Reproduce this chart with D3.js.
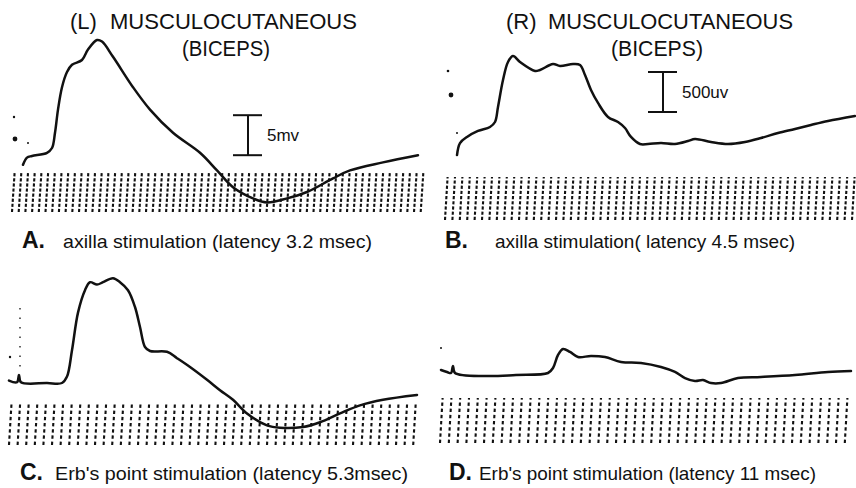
<!DOCTYPE html>
<html>
  <head>
    <meta charset="utf-8">
    <title>Musculocutaneous (biceps) responses</title>
    <script src="https://d3js.org/d3.v7.min.js"></script>
    <style>
      body { margin: 0; background: #fff; }
      svg { display: block; }
      text { font-family: "Liberation Sans", Arial, sans-serif; fill: #111; }
      .trace { fill: none; stroke: #111; stroke-width: 2.5; stroke-linejoin: round; stroke-linecap: round; }
      .bar { stroke: #111; stroke-width: 2; }
      .hatch { stroke: #111; stroke-width: 2.1; }
      .speck { fill: #111; }
    </style>
  </head>
  <body>
    <svg id="chart" width="856" height="488"></svg>
    <script>
      // traces: [time (ms), amplitude] — mV for A and C, uV for B and D
      const traceA = [
        [1.3, -0.6], [1.7, 0.3], [2.2, 0.5], [3.7, 0.9], [4.2, 1.5], [4.5, 3.4], [4.8, 6.3],
        [5.2, 9.1], [5.7, 11.0], [6.2, 11.9], [7.2, 12.5], [7.8, 13.8], [8.7, 15.0], [9.2, 14.8],
        [10.3, 12.9], [12.3, 9.1], [14.0, 6.3], [16.3, 3.4], [19.0, 0.9], [20.7, -1.3], [22.3, -3.4],
        [24.3, -4.8], [25.7, -5.3], [27.7, -4.8], [29.7, -4.0], [32.3, -2.3], [34.0, -1.3],
        [37.3, -0.3], [40.8, 0.6]
      ];
      const traceB = [
        [1.4, -188], [1.7, -38], [2.4, 38], [3.5, 113], [4.7, 163], [5.2, 225], [5.5, 413],
        [6.0, 750], [6.5, 975], [7.0, 1050], [7.7, 975], [9.2, 863], [9.7, 875], [11.0, 950],
        [11.7, 925], [13.0, 950], [13.7, 938], [14.2, 813], [14.8, 625], [15.5, 463], [16.5, 288],
        [17.5, 225], [18.2, 150], [18.8, 38], [19.7, -50], [20.5, -50], [21.8, -38], [23.2, -50],
        [24.5, -13], [25.2, 13], [26.8, -25], [28.5, -50], [30.2, -25], [31.8, 25], [33.5, 88],
        [35.2, 138], [36.8, 188], [38.5, 238], [41.2, 300]
      ];
      const traceC = [
        [0.2, 0.3], [1.0, 0.1], [1.2, 1.0], [1.4, 0.1], [4.0, 0], [5.5, 0], [6.0, 0.8], [6.5, 4.1],
        [7.1, 8.8], [7.8, 11.6], [8.3, 12.6], [9.0, 12.3], [9.6, 12.6], [10.6, 13.1], [11.3, 12.6],
        [12.1, 11.6], [12.8, 9.5], [13.3, 7.0], [13.8, 4.5], [14.3, 4.0], [16.0, 3.9], [17.0, 3.1],
        [18.3, 2.0], [20.0, 0.4], [21.3, -0.9], [22.6, -2.1], [24.0, -3.8], [26.0, -5.3], [27.3, -5.6],
        [29.6, -5.5], [31.3, -4.9], [33.3, -3.8], [35.3, -2.8], [37.6, -2.1], [41.0, -1.5]
      ];
      const traceD = [
        [0.3, 63], [0.9, 38], [1.3, 25], [1.5, 113], [1.7, 25], [4.8, -13], [7.8, 0], [11.0, 25],
        [11.5, 88], [12.0, 250], [12.5, 325], [13.2, 288], [14.0, 225], [15.3, 238], [16.7, 225],
        [18.3, 163], [20.3, 150], [22.3, 100], [23.7, 38], [24.7, -38], [25.7, -75], [26.5, -63],
        [27.3, -100], [28.3, -100], [30.0, -38], [32.3, -25], [35.7, 0], [39.0, 38], [41.3, 50]
      ];
      // calibration bars: [time (ms), start amplitude, size]
      const calA = [23.8, 0.6, 5];
      const calB = [22.0, 350, 500];
      const calLabels = ["5mv", "500uv"];
      const sideTitles = ["(L)", "(R)"];
      const nerveTitle = "MUSCULOCUTANEOUS";
      const muscleTitle = "(BICEPS)";
      const panelLetters = ["A.", "B.", "C.", "D."];
      const panelCaptions = [
        "axilla  stimulation (latency 3.2 msec)",
        "axilla stimulation( latency 4.5 msec)",
        "Erb's point stimulation (latency 5.3msec)",
        "Erb's point stimulation (latency 11 msec)"
      ];

      // layout of the four panels (pixels)
      const panels = [
        { data: traceA, x0: 10, band: [173, 212], y: [-6, 16, 208, 32], pitch: 6.7, dash: "3.2 1.9", cap: [22, 63, 372, 248] },
        { data: traceB, x0: 443, band: [177, 220], y: [-300, 1100, 164, 52], pitch: 7.4, dash: "3.2 2", cap: [445, 495, 795, 248] },
        { data: traceC, x0: 7, band: [402, 445], y: [-6, 14, 431, 271], pitch: 8.6, dash: "3.4 2.8", cap: [20, 55, 408, 480] },
        { data: traceD, x0: 438, band: [398, 443], y: [-200, 400, 391, 343], pitch: 8.8, dash: "3.4 2.8", cap: [449, 479, 816, 480] }
      ];

      svg = d3.select("#chart");
      line = d3.line().curve(d3.curveCatmullRom.alpha(0.5));

      panels.forEach(function(p, i) {
        p.xScale = d3.scaleLinear().domain([0, 41.2]).range([p.x0, p.x0 + 412]);
        p.yScale = d3.scaleLinear().domain([p.y[0], p.y[1]]).range([p.y[2], p.y[3]]);
        let g = svg.append("g");
        // hatched time-marker band
        let cols = d3.range(p.x0 + 3, p.x0 + 412, p.pitch);
        g.selectAll(".hatch")
          .data(cols)
          .join("line")
            .attr("class", "hatch")
            .attr("x1", function(d) { return d - 1; })
            .attr("x2", function(d) { return d + 1.6; })
            .attr("y1", p.band[1])
            .attr("y2", p.band[0])
            .attr("stroke-dasharray", p.dash);
        // trace
        line.x(function(d) { return p.xScale(d[0]); })
          .y(function(d) { return p.yScale(d[1]); });
        g.append("path")
          .attr("class", "trace")
          .attr("d", line(p.data));
        // caption
        g.append("text")
          .attr("x", p.cap[0])
          .attr("y", p.cap[3])
          .style("font-size", "23px")
          .style("font-weight", "bold")
          .text(panelLetters[i]);
        g.append("text")
          .attr("x", p.cap[1])
          .attr("y", p.cap[3])
          .attr("textLength", p.cap[2] - p.cap[1])
          .attr("lengthAdjust", "spacingAndGlyphs")
          .style("font-size", "19px")
          .text(panelCaptions[i]);
      });

      // calibration bars
      [[panels[0], calA, calLabels[0]], [panels[1], calB, calLabels[1]]].forEach(function(c) {
        let p = c[0], cal = c[1];
        let x = p.xScale(cal[0]);
        let yLow = p.yScale(cal[1]);
        let yHigh = p.yScale(cal[1] + cal[2]);
        let g = svg.append("g");
        g.append("line").attr("class", "bar").attr("x1", x).attr("x2", x).attr("y1", yLow).attr("y2", yHigh);
        [yLow, yHigh].forEach(function(y) {
          g.append("line").attr("class", "bar").attr("x1", x - 15).attr("x2", x + 14).attr("y1", y).attr("y2", y);
        });
        g.append("text")
          .attr("x", x + 19)
          .attr("y", (yLow + yHigh) / 2 + 6)
          .style("font-size", "17px")
          .text(c[2]);
      });

      // titles
      [[70, 110, 357, 182, 270], [506, 548, 793, 611, 703]].forEach(function(t, i) {
        svg.append("text").attr("x", t[0]).attr("y", 29).style("font-size", "22px").text(sideTitles[i]);
        svg.append("text").attr("x", t[1]).attr("y", 29).style("font-size", "22px")
          .attr("textLength", t[2] - t[1]).attr("lengthAdjust", "spacingAndGlyphs").text(nerveTitle);
        svg.append("text").attr("x", t[3]).attr("y", 56).style("font-size", "22px")
          .attr("textLength", t[4] - t[3]).attr("lengthAdjust", "spacingAndGlyphs").text(muscleTitle);
      });

      // stray specks from the oscilloscope photo
      const specks = [[14, 117, 1.2], [15, 139, 2.4], [28, 143, 1], [448, 71, 1.3], [451, 95, 2.4], [457, 133, 1],
        [10, 357, 1.2], [441, 348, 1]];
      svg.selectAll(".speck")
        .data(specks)
        .join("circle")
          .attr("class", "speck")
          .attr("cx", function(d) { return d[0]; })
          .attr("cy", function(d) { return d[1]; })
          .attr("r", function(d) { return d[2]; });
      svg.append("line")
        .attr("x1", 20).attr("x2", 20).attr("y1", 308).attr("y2", 372)
        .attr("stroke", "#111").attr("stroke-width", 1.3).attr("stroke-dasharray", "1.5 8");
    </script>
  </body>
</html>
